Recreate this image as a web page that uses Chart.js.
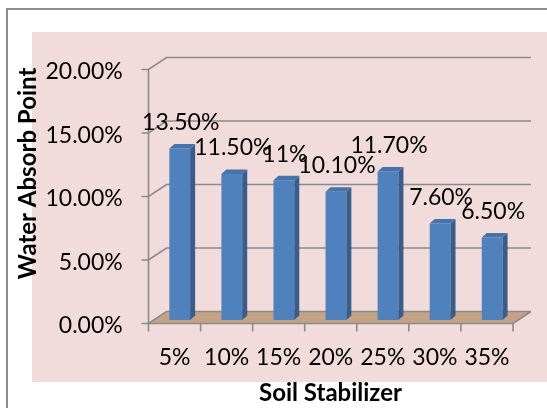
<!DOCTYPE html>
<html>
<head>
<meta charset="utf-8">
<script src="https://cdn.jsdelivr.net/npm/chart.js@4.4.1/dist/chart.umd.min.js"></script>
<style>
  html, body { margin: 0; padding: 0; background: #fff; }
  canvas { display: block; }
</style>
</head>
<body>
<canvas id="chart" width="547" height="408"></canvas>
<script>
// data
const categories = ['5%', '10%', '15%', '20%', '25%', '30%', '35%'];
const absorb = [13.5, 11.5, 11, 10.1, 11.7, 7.6, 6.5];
const absorbLabels = ['13.50%', '11.50%', '11%', '10.10%', '11.70%', '7.60%', '6.50%'];
const yTicks = [0, 5, 10, 15, 20];
const yTitle = 'Water Absorb Point';
const xTitle = 'Soil Stabilizer';

// fake 3d: offsets from the bar front plane
const FRONT = { dx: -5.2, dy: 3.5 };
const BACK = { dx: 12.8, dy: -8.5 };
const DEPTH = { dx: 5, dy: -4.5 };
const FONT = 'Lato';
const GRID = '#8a8a8a';

function poly(ctx, pts) {
  ctx.beginPath();
  ctx.moveTo(pts[0][0], pts[0][1]);
  for (let i = 1; i < pts.length; i++) ctx.lineTo(pts[i][0], pts[i][1]);
  ctx.closePath();
}

const box3d = {
  id: 'box3d',
  beforeDraw(chart) {
    const ctx = chart.ctx;
    ctx.save();
    ctx.fillStyle = '#fff';
    ctx.fillRect(0, 0, chart.width, chart.height);
    ctx.strokeStyle = '#8c8c8c';
    ctx.lineWidth = 2;
    ctx.strokeRect(7, 9, chart.width + 10, chart.height + 10);
    ctx.fillStyle = '#f2dcdb';
    ctx.fillRect(32, 32, chart.width - 32, 350);
    ctx.restore();
  },
  beforeDatasetsDraw(chart) {
    const ctx = chart.ctx;
    const ys = chart.scales.y, xs = chart.scales.x;
    const L = chart.chartArea.left, R = chart.chartArea.right;
    const y0 = ys.getPixelForValue(0);
    ctx.save();
    // floor
    poly(ctx, [[L + FRONT.dx, y0 + FRONT.dy], [R + FRONT.dx, y0 + FRONT.dy],
               [R + BACK.dx, y0 + BACK.dy], [L + BACK.dx, y0 + BACK.dy]]);
    ctx.fillStyle = '#c4a384';
    ctx.fill();
    ctx.strokeStyle = GRID;
    ctx.lineWidth = 1.6;
    // wall gridlines
    yTicks.forEach(v => {
      const y = ys.getPixelForValue(v);
      ctx.beginPath();
      ctx.moveTo(L + FRONT.dx - 7, y + FRONT.dy);
      ctx.lineTo(L + FRONT.dx, y + FRONT.dy);
      ctx.lineTo(L + BACK.dx, y + BACK.dy);
      ctx.lineTo(R + BACK.dx, y + BACK.dy);
      ctx.stroke();
    });
    // front axis + floor edges
    const top = ys.getPixelForValue(yTicks[yTicks.length - 1]);
    ctx.beginPath();
    ctx.moveTo(L + FRONT.dx, top + FRONT.dy);
    ctx.lineTo(L + FRONT.dx, y0 + FRONT.dy);
    ctx.lineTo(R + FRONT.dx, y0 + FRONT.dy);
    ctx.lineTo(R + BACK.dx, y0 + BACK.dy);
    ctx.stroke();
    // category ticks
    for (let i = 0; i <= categories.length; i++) {
      const x = xs.getPixelForValue(i - 0.5) + FRONT.dx;
      ctx.beginPath();
      ctx.moveTo(x, y0 + FRONT.dy);
      ctx.lineTo(x, y0 + FRONT.dy + 8);
      ctx.stroke();
    }
    ctx.restore();
  },
  afterDatasetsDraw(chart) {
    const ctx = chart.ctx;
    const meta = chart.getDatasetMeta(0);
    ctx.save();
    meta.data.forEach((bar, i) => {
      const p = bar.getProps(['x', 'y', 'base', 'width'], true);
      const l = p.x - p.width / 2, r = p.x + p.width / 2;
      poly(ctx, [[r, p.y], [r + DEPTH.dx, p.y + DEPTH.dy], [r + DEPTH.dx, p.base + DEPTH.dy], [r, p.base]]);
      ctx.fillStyle = '#385d8a';
      ctx.fill();
      poly(ctx, [[l, p.y], [l + DEPTH.dx, p.y + DEPTH.dy], [r + DEPTH.dx, p.y + DEPTH.dy], [r, p.y]]);
      ctx.fillStyle = '#4573ab';
      ctx.fill();
    });
    ctx.fillStyle = '#000';
    ctx.font = '23px ' + FONT;
    ctx.textAlign = 'center';
    ctx.textBaseline = 'middle';
    meta.data.forEach((bar, i) => {
      ctx.fillText(absorbLabels[i], bar.x + 1, bar.y - 26);
    });
    // axis titles
    ctx.font = 'bold 24px ' + FONT;
    ctx.fillText(xTitle, 330.5, 393);
    ctx.translate(28, 173.5);
    ctx.rotate(-Math.PI / 2);
    ctx.fillText(yTitle, 0, 0);
    ctx.restore();
  }
};

const tickFont = { family: FONT, size: 23 };

new Chart(document.getElementById('chart'), {
  type: 'bar',
  data: {
    labels: categories,
    datasets: [{
      data: absorb,
      backgroundColor: '#4f81bd',
      borderWidth: 0,
      barPercentage: 0.4,
      categoryPercentage: 1.0
    }]
  },
  options: {
    responsive: false,
    animation: false,
    layout: { padding: { top: 66, right: 28.8, left: 0, bottom: 0 } },
    plugins: { legend: { display: false }, tooltip: { enabled: false } },
    scales: {
      x: {
        grid: { display: false, drawTicks: false },
        border: { display: false },
        ticks: { color: '#000', font: tickFont, padding: 24, labelOffset: -5.2, maxRotation: 0, autoSkip: false },
        afterFit(s) { s.height = 88; s.paddingLeft = 0; s.paddingRight = 0; }
      },
      y: {
        min: 0,
        max: 20,
        grid: { display: false, drawTicks: false },
        border: { display: false },
        ticks: {
          color: '#000', font: tickFont, padding: 31, labelOffset: 6, stepSize: 5,
          callback: v => v.toFixed(2) + '%'
        },
        afterFit(s) { s.width = 153.7; }
      }
    }
  },
  plugins: [box3d]
});
</script>
</body>
</html>
